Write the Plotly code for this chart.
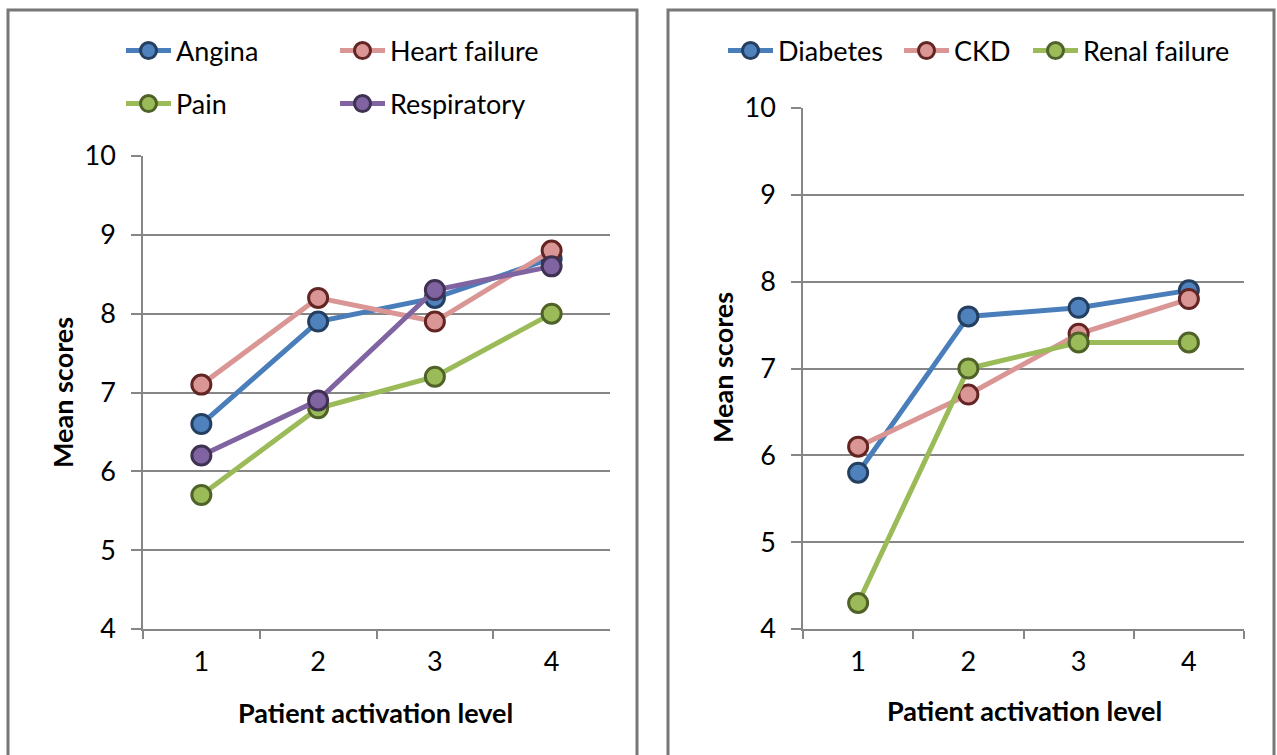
import plotly.graph_objects as go

W, H = 1277, 755

# activation levels (categories on the x axis)
levels = ["1", "2", "3", "4"]

# left panel: mean scores by condition
angina = [6.6, 7.9, 8.2, 8.7]
heart_failure = [7.1, 8.2, 7.9, 8.8]
pain = [5.7, 6.8, 7.2, 8.0]
respiratory = [6.2, 6.9, 8.3, 8.6]

# right panel: mean scores by condition
diabetes = [5.8, 7.6, 7.7, 7.9]
ckd = [6.1, 6.7, 7.4, 7.8]
renal_failure = [4.3, 7.0, 7.3, 7.3]

y_ticks = [4, 5, 6, 7, 8, 9, 10]

FONT = "Lato"
FS = 27
GRID = "#868686"
FRAME = "#777777"

BLUE = ("#4A7EBB", "#4F81BD", "#243F60")
RED = ("#D99694", "#D99694", "#632523")
GREEN = ("#9BBB59", "#9BBB59", "#4F6228")
PURPLE = ("#8064A2", "#8064A2", "#3F3151")


def px_x(p):
    return p / W


def px_y(p):
    return 1 - p / H


def series(name, values, colors, xa, ya, legend):
    line_c, fill_c, edge_c = colors
    return go.Scatter(
        x=levels, y=values, name=name, mode="lines+markers",
        xaxis=xa, yaxis=ya, legend=legend,
        line=dict(color=line_c, width=5),
        marker=dict(size=19, color=fill_c, line=dict(color=edge_c, width=3)),
        cliponaxis=False,
    )


# (name, values, colours, x axis, y axis, legend id, text start px, row px)
entries = [
    ("Angina", angina, BLUE, "x", "y", "legend", 176, 51),
    ("Heart failure", heart_failure, RED, "x", "y", "legend2", 390, 51),
    ("Pain", pain, GREEN, "x", "y", "legend3", 176, 104),
    ("Respiratory", respiratory, PURPLE, "x", "y", "legend4", 390, 104),
    ("Diabetes", diabetes, BLUE, "x2", "y2", "legend5", 778, 51),
    ("CKD", ckd, RED, "x2", "y2", "legend6", 954, 51),
    ("Renal failure", renal_failure, GREEN, "x2", "y2", "legend7", 1083, 51),
]

ITEM_W = 45
TEXT_OFFSET = ITEM_W + 10

fig = go.Figure()
legends = {}
for name, vals, cols, xa, ya, lg, tx, ty in entries:
    fig.add_trace(series(name, vals, cols, xa, ya, lg))
    legends[lg] = dict(
        orientation="h", xanchor="left", yanchor="middle",
        x=px_x(tx - TEXT_OFFSET), y=px_y(ty),
        itemwidth=ITEM_W,
        font=dict(family=FONT, size=FS, color="black"),
        bgcolor="rgba(0,0,0,0)", borderwidth=0,
        itemclick=False, itemdoubleclick=False,
    )

tick_font = dict(family=FONT, size=FS, color="black")


def xaxis(domain, anchor):
    return dict(
        domain=domain, anchor=anchor, type="category", range=[-0.5, 3.5],
        tickson="boundaries", ticks="outside", ticklen=8, tickwidth=1.5,
        tickcolor=GRID, showline=True, linecolor=GRID, linewidth=1.5,
        showgrid=False, zeroline=False, tickfont=tick_font,
        ticklabelstandoff=8, fixedrange=True,
    )


def yaxis(domain, anchor):
    return dict(
        domain=domain, anchor=anchor, range=[4, 10], tickvals=y_ticks,
        ticks="outside", ticklen=10, tickwidth=1.5, tickcolor=GRID,
        showline=True, linecolor=GRID, linewidth=1.5,
        showgrid=True, gridcolor=GRID, gridwidth=1.5, zeroline=False,
        tickfont=tick_font, ticklabelstandoff=10, fixedrange=True,
    )


fig.update_layout(
    width=W, height=H,
    margin=dict(l=0, r=0, t=0, b=0, autoexpand=False),
    paper_bgcolor="white", plot_bgcolor="white",
    font=dict(family=FONT, color="black"),
    xaxis=xaxis([px_x(143), px_x(610)], "y"),
    yaxis=yaxis([px_y(629), px_y(156)], "x"),
    xaxis2=xaxis([px_x(803), px_x(1244)], "y2"),
    yaxis2=yaxis([px_y(629), px_y(108)], "x2"),
    showlegend=True,
    **legends,
)

# panel frames
for x0, x1 in [(8, 637), (668, 1274)]:
    fig.add_shape(
        type="rect", xref="paper", yref="paper",
        x0=px_x(x0), x1=px_x(x1), y0=px_y(790), y1=px_y(10),
        line=dict(color=FRAME, width=3), fillcolor="rgba(0,0,0,0)",
        layer="below",
    )

title_font = dict(family=FONT, size=FS, color="black", weight="bold")
for x, y in [(376, 712), (1024, 710)]:
    fig.add_annotation(
        text="Patient activation level", xref="paper", yref="paper",
        x=px_x(x), y=px_y(y), xanchor="center", yanchor="middle",
        showarrow=False, font=title_font,
    )
for x, y in [(62, 393), (723, 368)]:
    fig.add_annotation(
        text="Mean scores", xref="paper", yref="paper",
        x=px_x(x), y=px_y(y), xanchor="center", yanchor="middle",
        showarrow=False, textangle=-90, font=title_font,
    )

fig.write_html("out.html", config={"displayModeBar": False})
